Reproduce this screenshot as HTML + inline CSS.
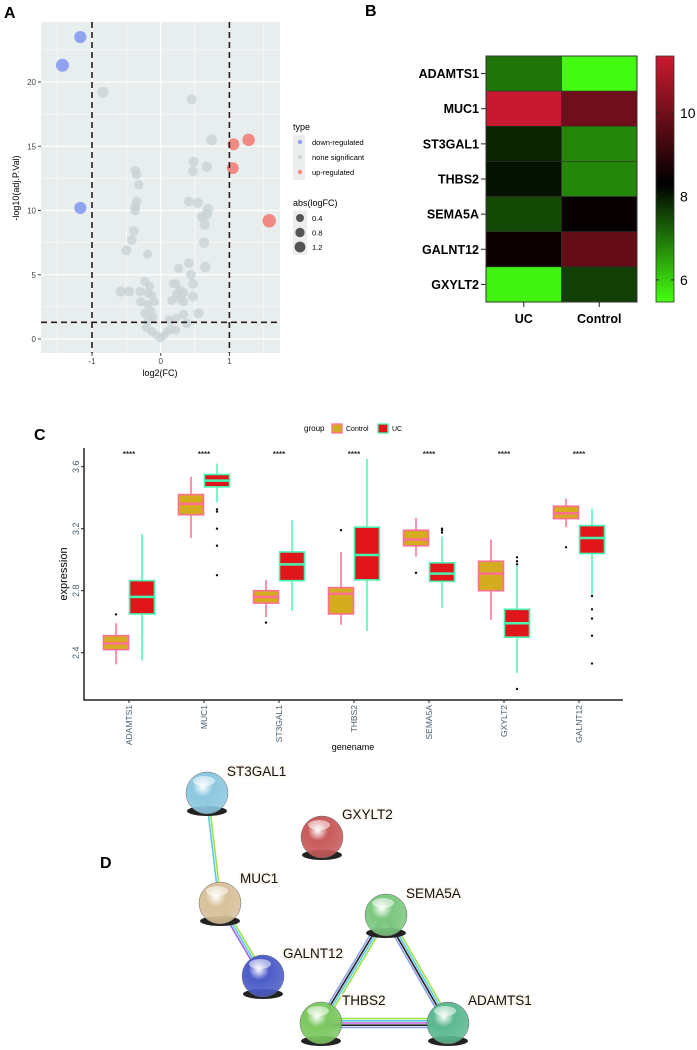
<!DOCTYPE html>
<html><head><meta charset="utf-8">
<style>
html,body{margin:0;padding:0;background:#fff;}
svg{display:block;font-family:"Liberation Sans",Arial,sans-serif;}
</style></head>
<body>
<svg id="fig" width="697" height="1050" viewBox="0 0 697 1050" xmlns="http://www.w3.org/2000/svg">
<defs>
  <linearGradient id="hmgrad" x1="0" y1="1" x2="0" y2="0">
    <stop offset="0" stop-color="#44ff11"/>
    <stop offset="0.48" stop-color="#000000"/>
    <stop offset="1" stop-color="#cc1a30"/>
  </linearGradient>
</defs>
<text x="4" y="18" font-size="16" font-weight="bold">A</text>
<text x="365" y="16" font-size="16" font-weight="bold">B</text>
<text x="34" y="440" font-size="16" font-weight="bold">C</text>
<text x="100" y="868" font-size="16" font-weight="bold">D</text>
<g id="panelA"></g>
<g id="panelB"></g>
<g id="panelC"></g>
<g id="panelD"></g>
</svg>
<script>
const NS="http://www.w3.org/2000/svg";
function mk(tag,attrs,parent){const e=document.createElementNS(NS,tag);for(const k in attrs)e.setAttribute(k,attrs[k]);parent.appendChild(e);return e;}

/* ---------- Panel A: volcano ---------- */
const volX=[-1.17,-1.43,-1.17,1.06,1.28,1.05,1.58,
-0.84,0.45,0.74,0.48,0.47,0.67,-0.37,-0.35,-0.32,-0.35,-0.37,-0.37,0.41,0.54,0.67,0.6,0.64,0.69,-0.39,-0.42,-0.5,-0.19,0.63,0.41,0.26,0.65,0.44,0.47,
-0.23,-0.58,-0.46,-0.3,-0.16,-0.19,-0.13,-0.29,-0.19,-0.09,-0.23,-0.14,-0.11,-0.18,-0.21,-0.13,-0.06,0,0.05,0.1,0.15,0.22,0.12,0.22,0.33,0.38,0.55,0.18,0.22,0.28,0.33,0.23,0.47,0.16,0.28,0.33];
const volY=[23.5,21.3,10.2,15.15,15.5,13.3,9.2,
19.2,18.65,15.5,13.8,13.05,13.4,13.1,12.8,12.0,10.7,10.3,10.0,10.7,10.6,9.7,9.5,8.9,10.1,8.4,7.7,6.9,6.6,7.5,5.9,5.5,5.6,5.0,4.3,
4.5,3.7,3.7,3.7,4.1,3.6,3.4,2.9,2.7,2.9,2.0,2.2,1.7,1.4,0.9,0.6,0.3,0.05,0.3,0.6,0.8,0.7,1.5,1.6,1.9,1.2,2.0,4.3,4.3,3.8,3.6,3.5,3.3,3.0,3.1,2.9];
const volXTicks=[-1,0,1];
const volYTicks=[0,5,10,15,20];
(function(){
  const g=document.getElementById('panelA');
  const L=41,R=280,T=22,B=353;
  const sx=v=>160.7+v*68.7, sy=v=>339-v*12.85;
  const bg=mk('rect',{x:L,y:T,width:R-L,height:B-T,fill:'#e8eded'},g);
  
  
  for(let v=-1.5;v<=1.5;v+=0.5){const x=sx(v);if(x>L&&x<R)mk('line',{x1:x,x2:x,y1:T,y2:B,stroke:'#fff','stroke-width':Number.isInteger(v)?1.2:0.6},g);}
  for(let v=0;v<=25;v+=2.5){const y=sy(v);if(y>T&&y<B)mk('line',{x1:L,x2:R,y1:y,y2:y,stroke:'#fff','stroke-width':v%5===0?1.2:0.6},g);}
  volX.forEach((xv,i)=>{
    const yv=volY[i];
    let col='rgba(200,210,210,0.75)';
    if(xv<-1&&yv>1.3)col='#8fa3f0'; else if(xv>1&&yv>1.3)col='#f08a82';
    const r=4.2+Math.abs(xv)*1.6;
    const c=mk('circle',{cx:sx(xv),cy:sy(yv),r:r,fill:col},g);
    
    
  });
  [-1,1].forEach(v=>mk('line',{x1:sx(v),x2:sx(v),y1:T,y2:B,stroke:'#2a1a1a','stroke-width':1.6,'stroke-dasharray':'6,4'},g));
  mk('line',{x1:L,x2:R,y1:sy(1.3),y2:sy(1.3),stroke:'#2a1a1a','stroke-width':1.6,'stroke-dasharray':'6,4'},g);
  volYTicks.forEach(v=>{
    mk('line',{x1:L-3,x2:L,y1:sy(v),y2:sy(v),stroke:'#444'},g);
    const t=mk('text',{x:L-5,y:sy(v)+3,'font-size':8,'text-anchor':'end',fill:'#444'},g);t.textContent=v;
    
    
  });
  volXTicks.forEach(v=>{
    mk('line',{x1:sx(v),x2:sx(v),y1:B,y2:B+3,stroke:'#444'},g);
    const t=mk('text',{x:sx(v),y:B+11,'font-size':8,'text-anchor':'middle',fill:'#444'},g);t.textContent=v;
    
    
  });
  const xt=mk('text',{x:160,y:B+23,'font-size':9,'text-anchor':'middle'},g);xt.textContent='log2(FC)';
  
  
  const yt=mk('text',{x:0,y:0,'font-size':9,'text-anchor':'middle',transform:'translate(19,188) rotate(-90)'},g);yt.textContent='-log10(adj.P.Val)';
  
  
  const lt=mk('text',{x:293,y:130,'font-size':9},g);lt.textContent='type';
  
  
  mk('rect',{x:293,y:135,width:12,height:45,fill:'#eceeee'},g);
  [['down-regulated','#8fa3f0'],['none significant','#cfd6d6'],['up-regulated','#f08a82']].forEach((e,i)=>{
    const y=142+i*15;
    mk('circle',{cx:300,cy:y,r:2.2,fill:e[1]},g);
    const t=mk('text',{x:312,y:y+3,'font-size':7.5},g);t.textContent=e[0];
    
    
  });
  const l2=mk('text',{x:293,y:206,'font-size':9},g);l2.textContent='abs(logFC)';
  
  
  mk('rect',{x:293,y:211,width:14,height:44,fill:'#eceeee'},g);
  [['0.4',4],['0.8',4.7],['1.2',5.4]].forEach((e,i)=>{
    const y=218+i*14.5;
    mk('circle',{cx:300,cy:y,r:e[1],fill:'#555'},g);
    const t=mk('text',{x:312,y:y+3,'font-size':7.5},g);t.textContent=e[0];
    
    
  });
})();

/* ---------- Panel B: heatmap ---------- */
const hmGenes=['ADAMTS1','MUC1','ST3GAL1','THBS2','SEMA5A','GALNT12','GXYLT2'];
const hmCols=['UC','Control'];
const hmUC=[7.0,11.3,7.9,8.1,7.5,8.5,5.6];
const hmCtrl=[5.5,10.0,6.8,6.8,8.4,9.8,7.6];
const hmTicks=[6,8,10];
(function(){
  const g=document.getElementById('panelB');
  const L=486,W=151,T=56,H=246,rh=H/hmGenes.length,cw=W/2;
  const vmin=5.47,vmax=11.37,vmid=8.3;
  function lerp(a,b,t){return a.map((v,i)=>Math.round(v+(b[i]-v)*t));}
  function col(v){
    const lo=[68,255,17],mid=[0,0,0],hi=[204,26,48];
    let c; if(v<=vmid)c=lerp(lo,mid,Math.max(0,(v-vmin)/(vmid-vmin))); else c=lerp(mid,hi,Math.min(1,(v-vmid)/(vmax-vmid)));
    return 'rgb('+c.join(',')+')';
  }
  hmGenes.forEach((gn,i)=>{
    [hmUC[i],hmCtrl[i]].forEach((v,j)=>{
      const r=mk('rect',{x:L+j*cw,y:T+i*rh,width:cw,height:rh,fill:col(v),stroke:'#333','stroke-width':0.6},g);
      
      
    });
    const y=T+(i+0.5)*rh;
    mk('line',{x1:L-5,x2:L,y1:y,y2:y,stroke:'#222'},g);
    const t=mk('text',{x:L-7,y:y+4.5,'font-size':12.5,'font-weight':'bold','text-anchor':'end'},g);t.textContent=gn;
    
    
  });
  mk('rect',{x:L,y:T,width:W,height:H,fill:'none',stroke:'#333','stroke-width':1},g);
  hmCols.forEach((c,j)=>{
    const x=L+(j+0.5)*cw;
    mk('line',{x1:x,x2:x,y1:T+H,y2:T+H+5,stroke:'#222'},g);
    const t=mk('text',{x:x,y:T+H+21,'font-size':12.5,'font-weight':'bold','text-anchor':'middle'},g);t.textContent=c;
    
    
  });
  const cb=mk('rect',{x:656,y:T,width:18,height:H,fill:'url(#hmgrad)',stroke:'#333','stroke-width':0.8},g);
  
  
  hmTicks.forEach(v=>{
    const y=T+H-(v-vmin)/(vmax-vmin)*H;
    mk('line',{x1:656,x2:659,y1:y,y2:y,stroke:'#222'},g);
    mk('line',{x1:671,x2:674,y1:y,y2:y,stroke:'#222'},g);
    const t=mk('text',{x:680,y:y+5,'font-size':14},g);t.textContent=v;
    
    
  });
})();

/* ---------- Panel C: boxplot ---------- */
const bxGenes=['ADAMTS1','MUC1','ST3GAL1','THBS2','SEMA5A','GXYLT2','GALNT12'];
const bxControl=[[2.325,2.42,2.46,2.51,2.59],[3.14,3.29,3.36,3.42,3.535],[2.63,2.72,2.76,2.80,2.87],[2.58,2.65,2.78,2.82,3.05],[3.02,3.09,3.13,3.19,3.27],[2.61,2.80,2.91,2.99,3.13],[3.21,3.265,3.30,3.345,3.395]];
const bxUC=[[2.35,2.65,2.76,2.865,3.165],[3.37,3.47,3.51,3.55,3.62],[2.67,2.865,2.97,3.05,3.255],[2.54,2.87,3.03,3.21,3.65],[2.69,2.86,2.91,2.98,3.15],[2.27,2.50,2.59,2.68,2.96],[2.77,3.04,3.14,3.22,3.33]];
const bxOutControl=[[2.647],[],[2.594],[3.19],[2.915],[],[3.08]];
const bxOutUC=[[],[3.325,3.31,3.2,3.09,2.9],[],[],[3.2,3.19,3.175],[3.015,2.99,2.97,2.166],[2.765,2.68,2.62,2.51,2.33]];
const bxYTicks=[2.4,2.8,3.2,3.6];
(function(){
  const g=document.getElementById('panelC');
  const sy=v=>652.7-(v-2.4)*155, sx=i=>129+i*75;
  const ax=mk('path',{d:'M84,448 V700 H623',fill:'none',stroke:'#222','stroke-width':1.5},g);
  
  
  function box(cx,s,fill,stroke,outs,name){
    const w=25;
    mk('line',{x1:cx,x2:cx,y1:sy(s[0]),y2:sy(s[4]),stroke:stroke,'stroke-width':1.5},g);
    const b=mk('rect',{x:cx-w/2,y:sy(s[3]),width:w,height:sy(s[1])-sy(s[3]),fill:fill,stroke:stroke,'stroke-width':1.6},g);
    
    
    mk('line',{x1:cx-w/2,x2:cx+w/2,y1:sy(s[2]),y2:sy(s[2]),stroke:stroke,'stroke-width':2.5},g);
    outs.forEach(o=>{const c=mk('circle',{cx:cx,cy:sy(o),r:1.2,fill:'#111'},g);
      
      });
  }
  bxGenes.forEach((gn,i)=>{
    box(sx(i)-13,bxControl[i],'#d4ac20','#ff6f91',bxOutControl[i],'box-control');
    box(sx(i)+13,bxUC[i],'#e0161b','#48f5b0',bxOutUC[i],'box-uc');
    const st=mk('text',{x:sx(i),y:457,'font-size':8,'text-anchor':'middle','font-weight':'bold',fill:'#333'},g);st.textContent='****';
    
    
    mk('line',{x1:sx(i),x2:sx(i),y1:700,y2:703,stroke:'#222'},g);
    const t=mk('text',{x:0,y:0,'font-size':8.5,'text-anchor':'end',fill:'#4a6070',transform:`translate(${sx(i)+3},705) rotate(-90)`},g);t.textContent=gn;
    
    
  });
  bxYTicks.forEach(v=>{
    mk('line',{x1:81,x2:84,y1:sy(v),y2:sy(v),stroke:'#222'},g);
    const t=mk('text',{x:0,y:0,'font-size':9,'text-anchor':'middle',fill:'#4a6070',transform:`translate(79,${sy(v)}) rotate(-90)`},g);t.textContent=v.toFixed(1);
    
    
  });
  const yt=mk('text',{x:0,y:0,'font-size':11,'text-anchor':'middle',transform:'translate(67,574) rotate(-90)'},g);yt.textContent='expression';
  
  
  const xt=mk('text',{x:353,y:750,'font-size':9,'text-anchor':'middle'},g);xt.textContent='genename';
  
  
  const lg=mk('text',{x:304,y:431,'font-size':8},g);lg.textContent='group';
  
  
  const k1=mk('rect',{x:332,y:424,width:10,height:9,fill:'#d4ac20',stroke:'#ff6f91','stroke-width':1.3},g);
  
  
  const t1=mk('text',{x:346,y:431,'font-size':7},g);t1.textContent='Control';
  
  
  const k2=mk('rect',{x:378,y:424,width:10,height:9,fill:'#e0161b',stroke:'#48f5b0','stroke-width':1.3},g);
  
  
  const t2=mk('text',{x:392,y:431,'font-size':7},g);t2.textContent='UC';
  
  
})();

/* ---------- Panel D: network ---------- */
const ndNames=['ST3GAL1','GXYLT2','MUC1','GALNT12','SEMA5A','THBS2','ADAMTS1'];
const ndColors=['#8cc8e0','#c85a5a','#d8c09a','#4c5cc8','#7cc880','#7cc860','#5cb890'];
const edges=[[0,2,['#9be34a','#5cc8e8']],[2,3,['#9be34a','#5cc8e8','#9a66e8']],[4,5,['#9be34a','#5cc8e8','#222','#90a0f0']],[4,6,['#9be34a','#5cc8e8','#222','#90a0f0']],[5,6,['#9be34a','#5cc8e8','#c060e0','#222','#90a0f0']]];
(function(){
  const g=document.getElementById('panelD');
  const pos=[[207,793],[322,837],[220,903],[263,976],[386,915],[321,1023],[448,1023]];
  const labPos=[[227,776],[342,819],[240,883],[283,958],[406,898],[342,1005],[468,1005]];
  const defs=document.querySelector('defs');
  edges.forEach(e=>{
    const a=pos[e[0]],b=pos[e[1]];
    const dx=b[0]-a[0],dy=b[1]-a[1],len=Math.hypot(dx,dy),nx=-dy/len,ny=dx/len;
    const n=e[2].length;
    e[2].forEach((c,k)=>{
      const o=(k-(n-1)/2)*2.2;
      const l=mk('line',{x1:a[0]+nx*o,y1:a[1]+ny*o,x2:b[0]+nx*o,y2:b[1]+ny*o,stroke:c,'stroke-width':1.6},g);
      
      
    });
  });
  ndNames.forEach((nm,i)=>{
    const gr=mk('radialGradient',{id:'ng'+i,cx:'0.4',cy:'0.35',r:'0.7'},defs);
    mk('stop',{offset:'0','stop-color':'#ffffff'},gr);
    mk('stop',{offset:'0.35','stop-color':ndColors[i]},gr);
    mk('stop',{offset:'1','stop-color':ndColors[i],'stop-opacity':'0.85'},gr);
    const [x,y]=pos[i];
    mk('ellipse',{cx:x,cy:y+18,rx:20,ry:5,fill:'#222'},g);
    const c=mk('circle',{cx:x,cy:y,r:21,fill:'url(#ng'+i+')',stroke:'#666','stroke-width':0.5},g);
    
    
    mk('ellipse',{cx:x-3,cy:y-12,rx:11,ry:5,fill:'#fff',opacity:0.55},g);
    const [lx,ly]=labPos[i];
    const t=mk('text',{x:lx,y:ly,'font-size':13.5,fill:'#111',stroke:'#fdf6ec','stroke-width':3,'paint-order':'stroke'},g);t.textContent=nm;
    
    
  });
})();
</script>
</body></html>
